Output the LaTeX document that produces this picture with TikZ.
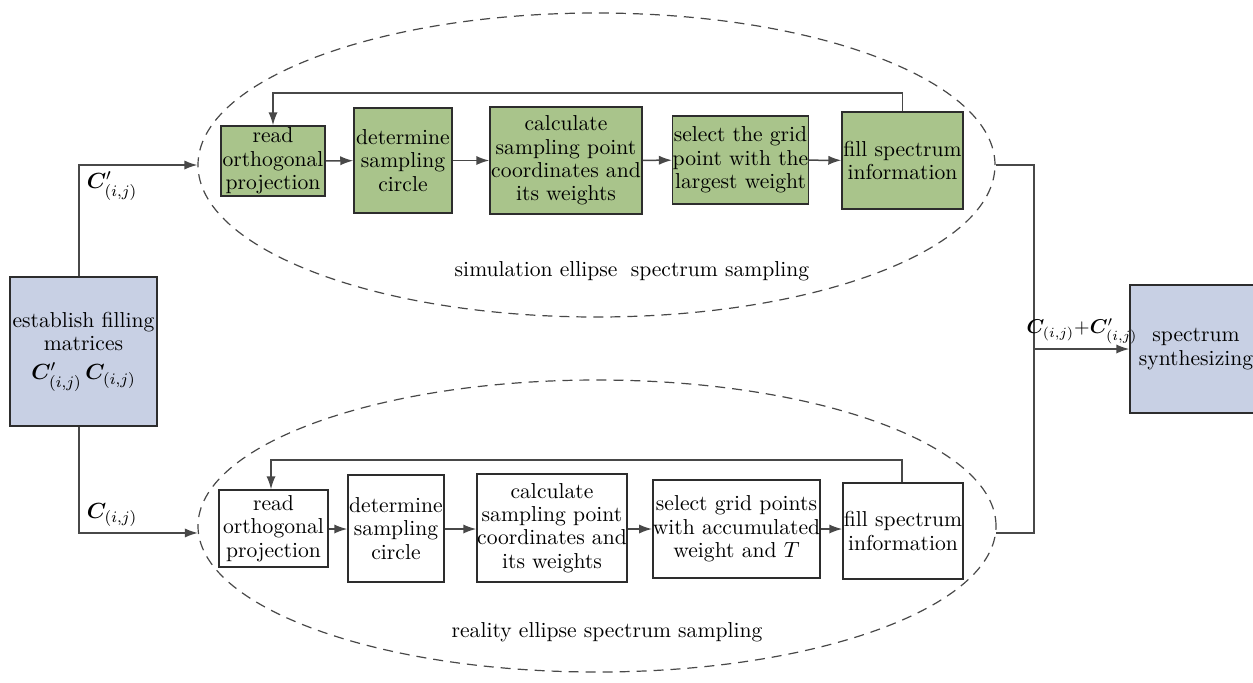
\documentclass[tikz,border=0pt]{standalone}
\usepackage{bm}
\usetikzlibrary{arrows.meta,shapes.geometric}
\definecolor{boxgreen}{RGB}{169,196,139}
\definecolor{boxblue}{RGB}{200,208,228}
\definecolor{linegray}{RGB}{72,72,72}
\definecolor{edgegray}{RGB}{45,45,45}
\newcommand{\Cij}{\bm{C}_{(i,j)}}
\newcommand{\Cpij}{\bm{C}'_{(i,j)}}
\begin{document}
\begin{tikzpicture}[x=0.5pt,y=-0.5pt,
  every node/.style={font=\fontsize{10.8}{11.7}\selectfont, inner sep=0pt, align=center},
  stagebox/.style={draw=edgegray, line width=0.75pt},
  simbox/.style={stagebox, fill=boxgreen},
  realbox/.style={stagebox, fill=white},
  endbox/.style={stagebox, fill=boxblue},
  link/.style={draw=linegray, line width=0.75pt},
  arr/.style={link, -{Latex[length=6.5pt,width=4.6pt]}},
  loop/.style={draw=linegray, line width=0.6pt, dash pattern=on 5pt off 3.5pt, ellipse},
  lbl/.style={font=\fontsize{10.8}{11.7}\selectfont},
  mlbl/.style={font=\fontsize{10}{11}\selectfont}
]
\useasboundingbox (0,0) rectangle (1253,682);
\clip (0,0) rectangle (1253,682);

% sampling loops
\node[loop, minimum width=398.5pt, minimum height=152pt] (E1) at (596.5,165) {};
\node[loop, minimum width=399pt, minimum height=146pt] (E2) at (597,526) {};
\node[lbl] at (632,271) {simulation ellipse\; spectrum sampling};
\node[lbl] at (607,632) {reality ellipse spectrum sampling};

% input and output
\node[endbox, minimum width=73.5pt, minimum height=74.5pt] (L) at (83.5,351.5)
  {establish filling\\matrices\\[3pt]$\Cpij\,\Cij$};
\node[endbox, minimum width=66pt, minimum height=64pt] (R) at (1196,349)
  {spectrum\\synthesizing};

% simulation row
\node[simbox, minimum width=52pt, minimum height=35pt] (T1) at (273,161)
  {read\\orthogonal\\projection};
\node[simbox, minimum width=49pt, minimum height=52.5pt] (T2) at (403,160.5)
  {determine\\sampling\\circle};
\node[simbox, minimum width=76pt, minimum height=53.5pt] (T3) at (566,160.5)
  {calculate\\sampling point\\coordinates and\\its weights};
\node[simbox, minimum width=66.5pt, minimum height=44pt] (T4) at (740.5,160)
  {select the grid\\point with the\\largest weight};
\node[simbox, minimum width=60.5pt, minimum height=48.5pt] (T5) at (902.5,160.5)
  {fill spectrum\\information};

% reality row
\node[realbox, minimum width=54.5pt, minimum height=38.5pt] (B1) at (273.5,528.5)
  {read\\orthogonal\\projection};
\node[realbox, minimum width=48pt, minimum height=53.5pt] (B2) at (396,528.5)
  {determine\\sampling\\circle};
\node[realbox, minimum width=75pt, minimum height=54pt] (B3) at (552,528)
  {calculate\\sampling point\\coordinates and\\its weights};
\node[realbox, minimum width=83.5pt, minimum height=49pt] (B4) at (736.5,529)
  {select grid points\\with accumulated\\weight and $T$};
\node[realbox, minimum width=60pt, minimum height=48pt] (B5) at (903,531)
  {fill spectrum\\information};

% chains
\coordinate (rowB) at (0,529);
\draw[arr] (T1) -- (T2);
\draw[arr] (T2) -- (T3);
\draw[arr] (T3) -- (T4);
\draw[arr] (T4) -- (T5);
\draw[arr] (B1.east |- rowB) -- (B2.west |- rowB);
\draw[arr] (B2.east |- rowB) -- (B3.west |- rowB);
\draw[arr] (B3.east |- rowB) -- (B4.west |- rowB);
\draw[arr] (B4.east |- rowB) -- (B5.west |- rowB);

% feedback loops
\coordinate (fbT) at (0,93);
\coordinate (fbB) at (0,460);
\draw[arr] (T5.north) -- (T5.north |- fbT) -| (T1.north);
\draw[arr] ([xshift=-0.5pt]B5.north) -- ([xshift=-0.5pt]B5.north |- fbB) -| ([xshift=-1.25pt]B1.north);

% inputs
\draw[arr] ([xshift=-2.25pt]L.north) |- (E1.west);
\draw[arr] ([xshift=-2.25pt]L.south) |- (E2.181);
\node[lbl] at (112,186) {$\Cpij$};
\node[lbl] at (112,515) {$\Cij$};

% merge into output
\coordinate (J) at (1034,349);
\draw[link] (E1.east) -| (J);
\draw[link] (E2.-1) -| (J);
\draw[arr] (J) -- (R.west);
\node[mlbl] at (1082,331) {$\Cij{+}\Cpij$};
\end{tikzpicture}
\end{document}
